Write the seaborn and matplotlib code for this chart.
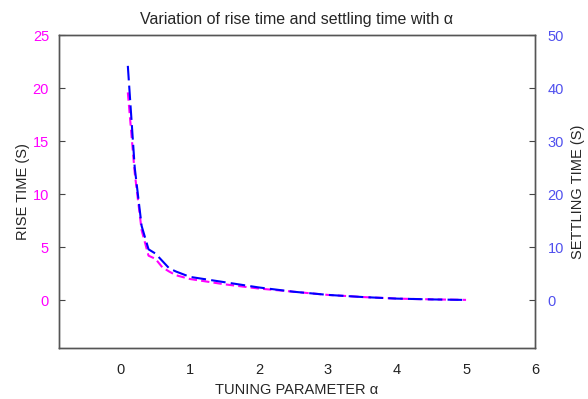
import numpy as np
import pandas as pd
import seaborn as sns
import matplotlib.pyplot as plt

# Data
alpha = [0.1, 0.2, 0.3, 0.4, 0.5, 0.6, 0.7, 0.8, 1.0, 1.5, 2.0, 2.5, 3.0, 3.5, 4.0, 4.5, 5.0]
rise_time = [19.6, 12.0, 6.6, 4.2, 3.9, 3.1, 2.7, 2.35, 2.0, 1.5, 1.1, 0.8, 0.5, 0.3, 0.15, 0.08, 0.03]
settling_time = [44.2, 25.0, 14.0, 9.6, 8.8, 7.4, 6.0, 5.4, 4.4, 3.4, 2.4, 1.6, 1.0, 0.6, 0.3, 0.15, 0.05]

df = pd.DataFrame({'alpha': alpha, 'rise': rise_time, 'settle': settling_time})

sns.set_style("white")
plt.rcParams['font.family'] = ['Liberation Sans', 'DejaVu Sans']

fig = plt.figure(figsize=(5.88, 3.99), dpi=100)
ax = fig.add_axes([0.100, 0.128, 0.810, 0.784])
ax2 = ax.twinx()

# rise time on the left axis (magenta), settling time on the right (blue)
sns.lineplot(data=df, x='alpha', y='rise', ax=ax, color='#FF00FF', linewidth=1.5,
             linestyle=(0, (4, 2)))
sns.lineplot(data=df, x='alpha', y='settle', ax=ax2, color='#0000FF', linewidth=1.5,
             linestyle=(0, (7, 2.5)))

ax.set_xlim(-0.9, 6)
ax.set_ylim(-4.5, 25)
ax2.set_ylim(-9, 50)
ax.set_xticks(range(0, 7))
ax.set_yticks(range(0, 26, 5))
ax2.set_yticks(range(0, 51, 10))

ax.set_xlabel('TUNING PARAMETER α', fontsize=10.5, labelpad=4)
ax.set_ylabel('RISE TIME (S)', fontsize=10.5, labelpad=2)
ax2.set_ylabel('SETTLING TIME (S)', fontsize=10.5)
ax2.yaxis.set_label_coords(1.075, 0.5)
ax.set_title('Variation of rise time and settling time with α', fontsize=11.5, pad=8)

ax.tick_params(axis='y', direction='in', length=4, pad=7, colors='#444444', labelcolor='#FF00FF', labelsize=10.5)
ax.tick_params(axis='x', direction='out', length=4, pad=7, colors='#444444', labelcolor='#222222', labelsize=10.5)
ax2.tick_params(axis='y', direction='in', length=4, pad=9, colors='#444444', labelcolor='#5050EE', labelsize=10.5)

for a in (ax, ax2):
    for s in a.spines.values():
        s.set_visible(True)
        s.set_color('#555555')
        s.set_linewidth(1.0)

fig.savefig('out.png', dpi=100)
